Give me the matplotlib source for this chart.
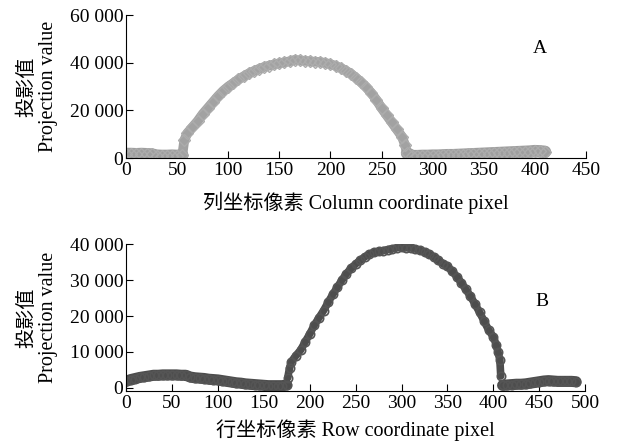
import numpy as np
import matplotlib.pyplot as plt

plt.rcParams['font.family'] = ['Liberation Serif', 'Noto Sans CJK SC']
plt.rcParams['axes.unicode_minus'] = False

# panel A: column projection
col_x = [0, 5, 10, 15, 20, 25, 30, 35, 40, 45, 50, 55,
         57, 60, 65, 70, 75, 80, 85, 90, 95, 100, 105, 110, 115, 120, 125,
         130, 135, 140, 145, 150, 155, 160, 165, 170, 175, 180, 185, 190,
         195, 200, 205, 210, 215, 220, 225, 230, 235, 240, 245, 250, 255,
         260, 265, 270, 273, 275,
         280, 285, 290, 295, 300, 305, 310, 315, 320, 325, 330, 335, 340,
         345, 350, 355, 360, 365, 370, 375, 380, 385, 390, 395, 400, 405, 410]
col_y = [1700, 1700, 1600, 1700, 1600, 1500, 1000, 900, 900, 1000, 900, 1200,
         7500, 10500, 13000, 15500, 18500, 21000, 23500, 26000, 28200, 30000,
         31500, 33000, 34300, 35500, 36500, 37400, 38200, 38800, 39300, 39800,
         40200, 40600, 41200, 41000, 40800, 40600, 40400, 40300, 39900, 39400,
         38700, 37800, 36700, 35400, 33700, 31800, 29800, 27300, 24400, 21000,
         18000, 15000, 12000, 9000, 5500, 2000,
         800, 800, 900, 900, 1000, 1000, 1100, 1200, 1200, 1300, 1400, 1500,
         1600, 1700, 1800, 1900, 2000, 2100, 2200, 2300, 2400, 2500, 2600,
         2700, 2900, 2800, 2600]

# panel B: row projection
row_x = [0, 5, 10, 15, 20, 25, 30, 35, 40, 45, 50, 55, 60, 65, 70, 75, 80,
         85, 90, 95, 100, 105, 110, 115, 120, 125, 130, 135, 140, 145, 150,
         155, 160, 165, 170, 175,
         176, 178, 180, 185, 190, 195, 200, 205, 210, 215, 220, 225, 230,
         235, 240, 245, 250, 255, 260, 265, 270, 275, 280, 285, 290, 295,
         300, 305, 310, 315, 320, 325, 330, 335, 340, 345, 350, 355, 360,
         365, 370, 375, 380, 385, 390, 395, 400, 403, 405, 407, 408,
         410, 415, 420, 425, 430, 435, 440, 445, 450, 455, 460, 465, 470,
         475, 480, 485, 490]
row_y = [1800, 2300, 2600, 2900, 3100, 3300, 3500, 3500, 3600, 3600, 3600,
         3600, 3500, 3500, 3000, 2800, 2700, 2600, 2400, 2300, 2200, 2000,
         1800, 1600, 1400, 1300, 1100, 1000, 900, 800, 700, 600, 600, 600,
         600, 800,
         2800, 5500, 7300, 9000, 10500, 12800, 15000, 17500, 19500, 21500,
         23800, 26000, 28000, 30000, 31800, 33300, 34500, 35500, 36500, 37200,
         37700, 38000, 38200, 38500, 38700, 39000, 39200, 39000, 39000, 38700,
         38300, 37800, 37200, 36500, 35500, 34600, 33800, 32500, 31000, 29300,
         27400, 25500, 23300, 21000, 18500, 16000, 14200, 12000, 10000, 7800,
         3300,
         700, 800, 900, 1000, 1000, 1100, 1300, 1500, 1700, 1900, 2000, 1900,
         1800, 1800, 1800, 1800, 1700]

fig = plt.figure(figsize=(6.18, 4.44), dpi=100)
ax1 = fig.add_axes([0.204, 0.644, 0.744, 0.322])
ax2 = fig.add_axes([0.204, 0.120, 0.743, 0.330])

# dense point clouds: thick band under hollow markers
ax1.plot(col_x[:12], col_y[:12], '-', color='#9e9e9e', lw=9,
         solid_capstyle='round')
ax1.plot(col_x[11:58], col_y[11:58], '-', color='#a2a2a2', lw=7,
         solid_capstyle='round', solid_joinstyle='round')
ax1.plot(col_x[57:], col_y[57:], '-', color='#9e9e9e', lw=9,
         solid_capstyle='round')
ax1.plot(col_x, col_y, 'D', color='#acacac', ms=6, mfc='none', mew=1.0)

ax2.plot(row_x[:36], row_y[:36], '-', color='#4d4d4d', lw=8,
         solid_capstyle='round')
ax2.plot(row_x[36:87], row_y[36:87], '-', color='#4d4d4d', lw=5.5,
         solid_capstyle='round')
ax2.plot(row_x[87:], row_y[87:], '-', color='#4d4d4d', lw=8,
         solid_capstyle='round')
ax2.plot(row_x, row_y, 'o', color='#555555', ms=6, mfc='none', mew=1.2)

ax1.set_xlim(0, 450)
ax1.set_ylim(0, 60000)
ax1.set_xticks(np.arange(0, 451, 50))
ax1.set_yticks([0, 20000, 40000, 60000])

ax2.set_xlim(0, 500)
ax2.set_ylim(-800, 40000)
ax2.set_xticks(np.arange(0, 501, 50))
ax2.set_yticks([0, 10000, 20000, 30000, 40000])

def fmt(v, pos):
    return '{:,}'.format(int(v)).replace(',', ' ')

for ax in (ax1, ax2):
    ax.spines['top'].set_visible(False)
    ax.spines['right'].set_visible(False)
    ax.yaxis.set_major_formatter(plt.FuncFormatter(fmt))
    ax.tick_params(direction='in', length=5, labelsize=14)
    ax.tick_params(axis='x', pad=3)
    ax.tick_params(axis='y', pad=2)
    ax.set_ylabel('投影值\nProjection value', fontsize=14.5, labelpad=8,
                  multialignment='center', linespacing=1.15)

ax1.set_xlabel('列坐标像素 Column coordinate pixel', fontsize=14.5, labelpad=9)
ax2.set_xlabel('行坐标像素 Row coordinate pixel', fontsize=14.5, labelpad=5)

ax1.text(405, 46000, 'A', fontsize=14, ha='center', va='center')
ax2.text(453, 24000, 'B', fontsize=14, ha='center', va='center')

fig.savefig('out.png', dpi=100)
